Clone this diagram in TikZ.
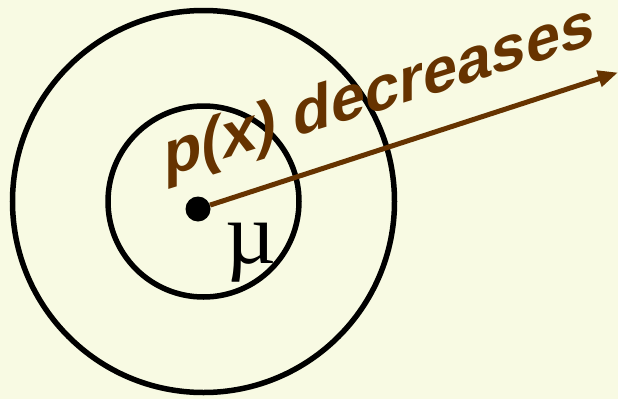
\documentclass[tikz,border=0pt]{standalone}
\usepackage{fontspec}
\setmainfont{Liberation Sans}
\newfontfamily\serifmu{Liberation Serif}
\usetikzlibrary{arrows.meta}
\definecolor{bgcream}{HTML}{F8FAE3}
\definecolor{arrowbrown}{HTML}{663300}
\begin{document}
\begin{tikzpicture}[x=1pt,y=1pt,
  ring/.style={draw=black,line width=5.5pt},
  brownarrow/.style={draw=arrowbrown,line width=5pt,-{Triangle[length=20pt,width=16pt]}},
  labeltext/.style={text=arrowbrown,font=\fontsize{64}{64}\selectfont\bfseries,inner sep=0pt,anchor=base west,transform shape,yslant=0.31,xscale=0.96}
]
\fill[bgcream] (0,0) rectangle (618,-399);
\useasboundingbox (0,0) rectangle (618,-399);
\coordinate (c) at (203.5,-201.5);
\draw[ring] (c) circle[radius=191pt];
\draw[ring] (c) circle[radius=95.5pt];
\node[circle,fill=black,minimum size=25pt,inner sep=0pt] (dot) at (198,-209) {};
\coordinate (tip) at (618,-72.5);
\draw[brownarrow] (dot) -- (tip);
\node[labeltext] (lbl) at (164,-177.6) {p(x) decreases};
\node[inner sep=0pt,anchor=base west,font=\serifmu\fontsize{88}{88}\selectfont] (mu) at (225,-263) {µ};
\end{tikzpicture}
\end{document}
